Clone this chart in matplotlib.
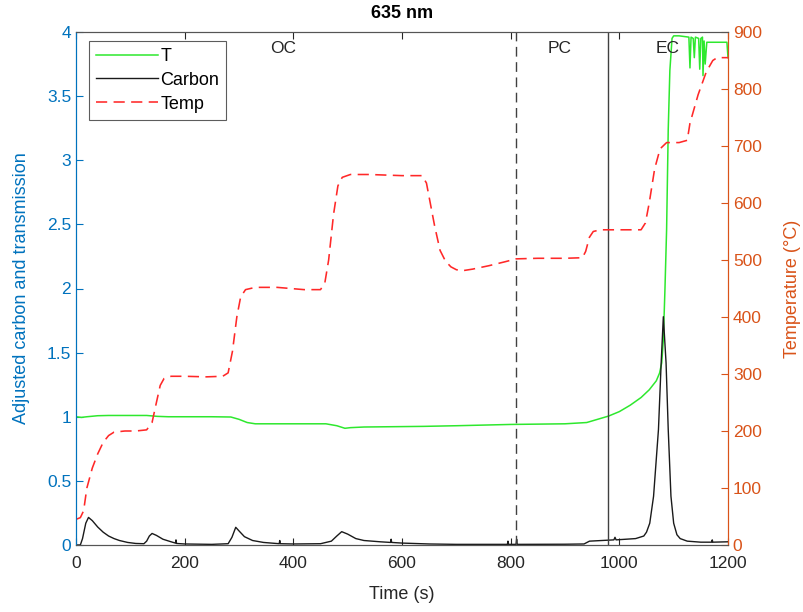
import matplotlib
matplotlib.use('Agg')
import matplotlib.pyplot as plt

plt.rcParams['font.family'] = ['Liberation Sans', 'DejaVu Sans']

# 透射率 T (左轴)
t_time = [0, 10, 20, 40, 60, 100, 130, 150, 170, 250, 285, 300, 315, 330, 400, 460,
          480, 495, 505, 530, 640, 700, 800, 900, 940, 964, 980, 1000, 1020, 1040,
          1055, 1068, 1074, 1078, 1081, 1084, 1087, 1090, 1093, 1097, 1100, 1110,
          1128, 1130, 1132, 1136, 1138, 1140, 1146, 1148, 1150, 1153, 1154, 1156,
          1158, 1161, 1198, 1200]
t_vals = [1.0, 0.995, 1.0, 1.008, 1.01, 1.01, 1.01, 1.003, 1.0, 1.0, 0.998, 0.98,
          0.955, 0.945, 0.945, 0.945, 0.93, 0.91, 0.915, 0.92, 0.925, 0.93, 0.94,
          0.945, 0.955, 0.985, 1.005, 1.04, 1.09, 1.15, 1.21, 1.28, 1.34, 1.42,
          1.6, 2.0, 2.46, 3.24, 3.7, 3.95, 3.97, 3.97, 3.96, 3.72, 3.96, 3.95, 3.8,
          3.96, 3.95, 3.71, 3.95, 3.96, 3.66, 3.93, 3.75, 3.92, 3.92, 3.8]

# 碳 (左轴)
c_time = [0, 8, 12, 18, 23, 30, 40, 50, 60, 70, 80, 95, 110, 125, 130, 135, 140,
          148, 160, 175, 183, 184, 185, 200, 250, 280, 287, 294, 300, 310, 325,
          345, 374, 375, 376, 400, 450, 470, 480, 489, 500, 515, 530, 560, 579,
          580, 581, 600, 650, 700, 794, 795, 796, 810, 811, 812, 900, 935, 945,
          990, 992, 994, 1030, 1045, 1050, 1056, 1063, 1072, 1077, 1081, 1086,
          1090, 1095, 1100, 1106, 1112, 1125, 1150, 1170, 1171, 1172, 1200]
c_vals = [0.0, 0.0, 0.05, 0.17, 0.215, 0.19, 0.14, 0.1, 0.07, 0.05, 0.035, 0.02,
          0.012, 0.01, 0.03, 0.07, 0.09, 0.075, 0.045, 0.025, 0.015, 0.04, 0.012,
          0.008, 0.005, 0.01, 0.06, 0.138, 0.11, 0.065, 0.035, 0.02, 0.01, 0.035,
          0.01, 0.008, 0.01, 0.03, 0.07, 0.104, 0.085, 0.05, 0.035, 0.025, 0.02,
          0.045, 0.02, 0.015, 0.008, 0.005, 0.005, 0.03, 0.005, 0.005, 0.045,
          0.005, 0.006, 0.008, 0.03, 0.04, 0.06, 0.04, 0.05, 0.07, 0.1, 0.17,
          0.38, 0.9, 1.42, 1.78, 1.42, 0.9, 0.38, 0.17, 0.08, 0.05, 0.03, 0.022,
          0.022, 0.04, 0.022, 0.025]

# 温度 (右轴)
temp_time = [0, 8, 14, 20, 30, 40, 50, 60, 70, 90, 110, 130, 140, 148, 155, 162,
             175, 200, 240, 270, 280, 288, 296, 303, 312, 330, 370, 420, 450, 458,
             465, 474, 482, 490, 505, 540, 600, 637, 645, 652, 660, 670, 680, 690,
             700, 710, 730, 760, 790, 810, 850, 900, 932, 938, 945, 952, 965, 1000,
             1040, 1048, 1055, 1065, 1075, 1087, 1110, 1125, 1130, 1145, 1160,
             1172, 1180, 1200]
temp_vals = [45, 48, 60, 100, 135, 160, 180, 192, 198, 200, 200, 202, 215, 250,
             280, 292, 296, 296, 295, 296, 302, 340, 400, 435, 448, 452, 452, 448,
             448, 460, 500, 580, 630, 645, 650, 650, 648, 648, 635, 600, 560, 517,
             498, 488, 483, 481, 484, 490, 497, 502, 503, 503, 504, 515, 540, 550,
             553, 553, 553, 565, 600, 660, 695, 706, 706, 710, 740, 790, 830, 850,
             855, 855]

# 阶段分界线与标签
phase_lines = [809, 980]
phase_names = ['OC', 'PC', 'EC']
phase_x = [381, 891, 1088]
phase_y = 3.87

left_ticks = [0, 0.5, 1, 1.5, 2, 2.5, 3, 3.5, 4]
left_labels = ['0', '0.5', '1', '1.5', '2', '2.5', '3', '3.5', '4']
right_ticks = [0, 100, 200, 300, 400, 500, 600, 700, 800, 900]
x_ticks = [0, 200, 400, 600, 800, 1000, 1200]

blue = '#0072BD'
orange = '#D95319'
gray = '#262626'

fig = plt.figure(figsize=(8.04, 6.12), dpi=100)
ax = fig.add_axes([76 / 804, 1 - 545 / 612, (728 - 76) / 804, (545 - 32) / 612])
ax2 = ax.twinx()

l_t, = ax.plot(t_time, t_vals, color='#2EE82E', lw=1.1, label='T')
l_c, = ax.plot(c_time, c_vals, color='#1a1a1a', lw=1.0, label='Carbon')
ax.axvline(phase_lines[0], color='#404040', lw=1.0, ls=(0, (7, 4)))
ax.axvline(phase_lines[1], color='#404040', lw=1.0)
for name, xp in zip(phase_names, phase_x):
    ax.text(xp, phase_y, name, ha='center', va='center', fontsize=12.5, color=gray)

l_temp, = ax2.plot(temp_time, temp_vals, color='#FF2828', lw=1.15,
                   dashes=(7, 4), label='Temp')

ax.set_xlim(0, 1200)
ax.set_ylim(0, 4)
ax2.set_ylim(0, 900)
ax.set_xticks(x_ticks)
ax.set_yticks(left_ticks)
ax.set_yticklabels(left_labels)
ax2.set_yticks(right_ticks)

ax.set_xlabel('Time (s)', fontsize=13, color=gray, labelpad=11)
ax.set_ylabel('Adjusted carbon and transmission', fontsize=13, color=blue,
              labelpad=12)
ax2.set_ylabel('Temperature (°C)', fontsize=13, color=orange, labelpad=16)
ax.set_title('635 nm', fontsize=13, fontweight='bold', color='black', pad=10)

ax.tick_params(axis='x', direction='in', top=True, length=5, labelsize=12.5,
               colors=gray, pad=8)
ax.tick_params(axis='y', direction='in', length=5, labelsize=12.5, colors=blue)
ax2.tick_params(axis='y', direction='in', length=5, labelsize=12.5, colors=orange)

for a in (ax, ax2):
    a.spines['top'].set_color('#555555')
    a.spines['bottom'].set_color('#555555')
    a.spines['left'].set_color(blue)
    a.spines['right'].set_color(orange)

leg = ax2.legend(handles=[l_t, l_c, l_temp], loc='upper left', fontsize=13,
                 frameon=True, fancybox=False, edgecolor='#333333',
                 bbox_to_anchor=(0.02, 0.983), borderaxespad=0.0,
                 handlelength=3.4, labelspacing=0.38, borderpad=0.4,
                 handletextpad=0.15)
leg.get_frame().set_linewidth(0.8)

fig.savefig('out.png', dpi=100)
